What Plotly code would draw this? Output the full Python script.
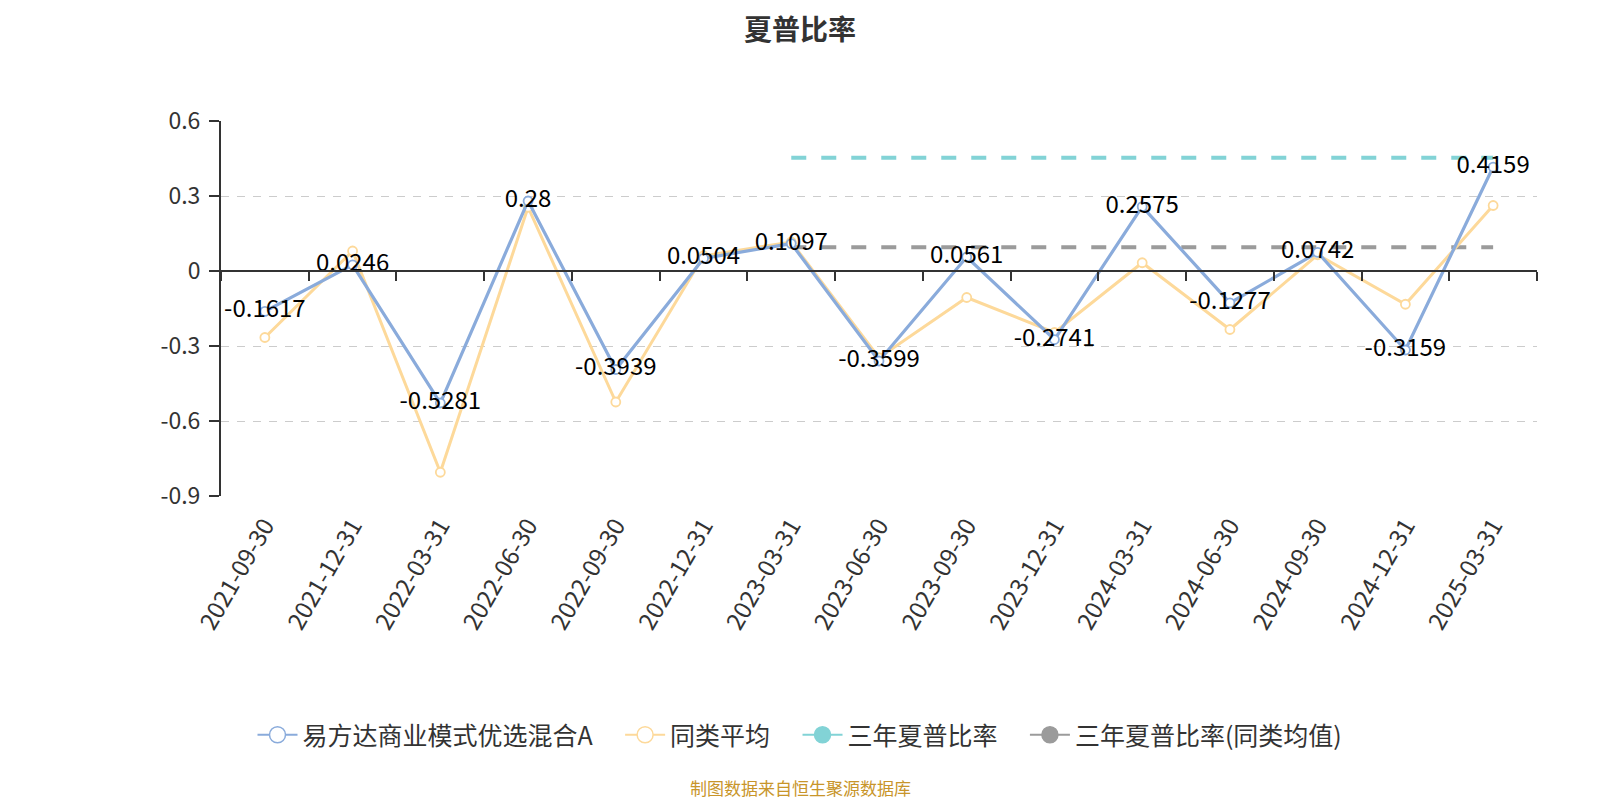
import plotly.graph_objects as go

categories = ["2021-09-30", "2021-12-31", "2022-03-31", "2022-06-30", "2022-09-30",
              "2022-12-31", "2023-03-31", "2023-06-30", "2023-09-30", "2023-12-31",
              "2024-03-31", "2024-06-30", "2024-09-30", "2024-12-31", "2025-03-31"]
fund_values = [-0.1617, 0.0246, -0.5281, 0.28, -0.3939, 0.0504, 0.1097, -0.3599,
               0.0561, -0.2741, 0.2575, -0.1277, 0.0742, -0.3159, 0.4159]
peer_values = [-0.266, 0.080, -0.805, 0.255, -0.524, 0.061, 0.116, -0.347,
               -0.106, -0.246, 0.033, -0.234, 0.065, -0.133, 0.262]
three_year_sharpe = 0.453
three_year_sharpe_peer = 0.095
line_start = "2023-03-31"
line_end = "2025-03-31"
y_ticks = [0.6, 0.3, 0, -0.3, -0.6, -0.9]
y_tick_labels = ["0.6", "0.3", "0", "-0.3", "-0.6", "-0.9"]

names = ["易方达商业模式优选混合A", "同类平均", "三年夏普比率", "三年夏普比率(同类均值)"]
BLUE = "#8aabdb"
YELLOW = "#fdd99a"
TEAL = "#82d3d6"
GREY = "#9b9b9b"
FONT = "Noto Sans CJK SC, Noto Sans, sans-serif"

# page body has an 8px margin, so the figure is drawn slightly smaller
W, H = 1592, 792
L, T = 213, 113
R = W - 1529
B = H - 488
PH = H - T - B
PW = W - L - R
CX = 792  # horizontal centre of title / legend / source

fig = go.Figure()

i0 = categories.index(line_start)
i1 = categories.index(line_end)
span = categories[i0:i1 + 1]

fig.add_trace(go.Scatter(x=span, y=[three_year_sharpe] * len(span), mode="lines",
                         line=dict(color=TEAL, width=4, dash="15px,15px"),
                         showlegend=False, hoverinfo="skip"))
fig.add_trace(go.Scatter(x=span, y=[three_year_sharpe_peer] * len(span), mode="lines",
                         line=dict(color=GREY, width=4, dash="15px,15px"),
                         showlegend=False, hoverinfo="skip"))

fig.add_trace(go.Scatter(x=categories, y=peer_values, mode="lines+markers",
                         line=dict(color=YELLOW, width=3),
                         marker=dict(symbol="circle", size=9, color="white",
                                     line=dict(color=YELLOW, width=1.8)),
                         showlegend=False, name=names[1]))
fig.add_trace(go.Scatter(x=categories, y=fund_values, mode="lines+markers+text",
                         line=dict(color=BLUE, width=3.2),
                         marker=dict(symbol="circle", size=9, color="white",
                                     line=dict(color=BLUE, width=1.8)),
                         text=[f"{v:g}" for v in fund_values],
                         textposition="middle center",
                         textfont=dict(size=24, color="#000", family=FONT),
                         showlegend=False, name=names[0]))

# invisible trace for the zero-line x axis
fig.add_trace(go.Scatter(x=categories, y=[None] * len(categories), xaxis="x2",
                         mode="lines", showlegend=False, hoverinfo="skip"))

# legend entries
PAD = "\u00a0" * 4
legend_styles = [
    (names[0], BLUE, "white"),
    (names[1], YELLOW, "white"),
    (names[2], TEAL, TEAL),
    (names[3], GREY, GREY),
]
for k, (nm, col, fill) in enumerate(legend_styles):
    label = nm + (PAD if k < len(legend_styles) - 1 else "")
    fig.add_trace(go.Scatter(x=[categories[0]], y=[None], mode="lines+markers", name=label,
                             line=dict(color=col, width=2),
                             marker=dict(symbol="circle", size=16, color=fill,
                                         line=dict(color=col, width=1.5))))

fig.update_layout(
    width=W, height=H,
    margin=dict(l=L, r=R, t=T, b=B, autoexpand=False),
    paper_bgcolor="white", plot_bgcolor="white",
    font=dict(family=FONT, color="#333"),
    title=dict(text="<b>夏普比率</b>", x=CX / W, xanchor="center", y=1 - 22 / H, yanchor="middle",
               font=dict(size=28, color="#333", family=FONT)),
    xaxis=dict(type="category", categoryorder="array", categoryarray=categories,
               range=[-0.5, len(categories) - 0.5],
               showline=False, ticks="", showgrid=False, zeroline=False,
               tickangle=-60, tickfont=dict(size=24, color="#333"), ticklabelstandoff=10),
    xaxis2=dict(type="category", categoryorder="array", categoryarray=categories,
                range=[-0.5, len(categories) - 0.5], overlaying="x", anchor="free",
                position=(0 - min(y_ticks)) / (max(y_ticks) - min(y_ticks)),
                showline=True, linecolor="#333", linewidth=2,
                ticks="outside", tickson="boundaries", ticklen=9, tickwidth=2, tickcolor="#333",
                showticklabels=False, showgrid=False, zeroline=False),
    yaxis=dict(range=[min(y_ticks), max(y_ticks)], tickmode="array", tickvals=y_ticks,
               ticktext=y_tick_labels, showline=True, linecolor="#333", linewidth=2,
               ticks="outside", ticklen=10, tickwidth=2, tickcolor="#333",
               showgrid=True, gridcolor="#cccccc", griddash="8px,8px", gridwidth=1.3,
               zeroline=False, tickfont=dict(size=23, color="#333"), ticklabelstandoff=4),
    legend=dict(orientation="h", x=(CX - L) / PW, xanchor="center",
                y=(PH - (727 - T)) / PH, yanchor="middle",
                font=dict(size=25, color="#333"), itemwidth=40, tracegroupgap=0),
    annotations=[dict(text="制图数据来自恒生聚源数据库", xref="paper", yref="paper",
                      x=(CX - L) / PW, y=(PH - (779 - T)) / PH, showarrow=False,
                      xanchor="center", yanchor="middle",
                      font=dict(size=17, color="#c8952a", family=FONT))],
)

fig.write_html("out.html")
